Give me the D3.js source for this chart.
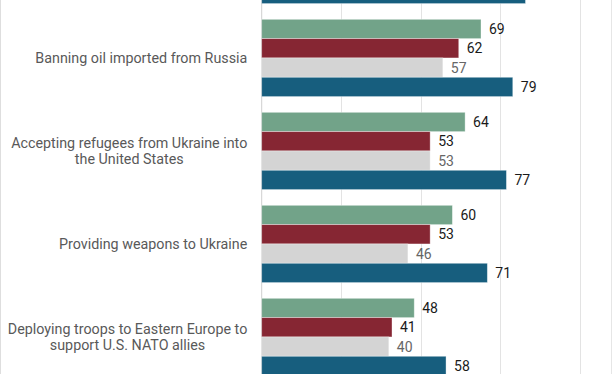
<!DOCTYPE html>
<html>
<head>
<meta charset="utf-8">
<script src="https://cdn.jsdelivr.net/npm/d3@7"></script>
<style>
  html, body { margin: 0; padding: 0; background: #fff; }
  svg { display: block; font-family: Roboto, "Noto Sans", sans-serif; }
</style>
</head>
<body>
<div id="figure"></div>
<script>
// categories (first one is cut off at the top of the picture)
const categories = [
  '',
  'Banning oil imported from Russia',
  'Accepting refugees from Ukraine into\nthe United States',
  'Providing weapons to Ukraine',
  'Deploying troops to Eastern Europe to\nsupport U.S. NATO allies'
]
const seriesNames = ['Total', 'Republicans', 'Independents', 'Democrats']
// values per series, same order as categories (null = not visible)
const total = [null, 69, 64, 60, 48]
const republicans = [null, 62, 53, 53, 41]
const independents = [null, 57, 53, 46, 40]
const democrats = [83, 79, 77, 71, 58]
const xTicks = [25, 50, 75, 100]

const seriesValues = [total, republicans, independents, democrats]
const colors = ['#72a389', '#862633', '#d4d4d4', '#175e7e']
const labelColors = ['#1a1a1a', '#1a1a1a', '#666666', '#1a1a1a']

const width = 612
const height = 374

const svg = d3.select('#figure').append('svg')
  .attr('width', width).attr('height', height)

// scales
const x = d3.scaleLinear().domain([0, 110]).range([261.7, 611.3])
const step = 93
const y0 = -81.55
const y = d3.scaleBand().domain(d3.range(categories.length))
  .range([y0, y0 + step * categories.length])
  .paddingInner(0.169).paddingOuter(0.0845)
const ySub = d3.scaleBand().domain(d3.range(seriesNames.length))
  .range([0, y.bandwidth()])

// frame lines
svg.append('line').attr('x1', 0.5).attr('x2', 0.5).attr('y1', 0).attr('y2', height)
  .attr('stroke', '#dedede')
svg.append('line').attr('x1', width - 0.5).attr('x2', width - 0.5).attr('y1', 0).attr('y2', height)
  .attr('stroke', '#e6e6e6')

// grid
svg.append('g').selectAll('line').data(xTicks).enter().append('line')
  .attr('x1', d => Math.round(x(d)) + 0.5).attr('x2', d => Math.round(x(d)) + 0.5)
  .attr('y1', 0).attr('y2', height)
  .attr('stroke', '#e3e3e3')

// baseline
svg.append('line').attr('x1', x(0)).attr('x2', x(0)).attr('y1', 0).attr('y2', height)
  .attr('stroke', '#cfcfcf')

// bars
const rows = []
categories.forEach((c, i) => {
  seriesValues.forEach((vals, s) => {
    if (vals[i] != null) rows.push({ cat: i, s: s, v: vals[i] })
  })
})

const g = svg.append('g')
g.selectAll('rect').data(rows).enter().append('rect')
  .attr('x', x(0))
  .attr('y', d => y(d.cat) + ySub(d.s))
  .attr('width', d => x(d.v) - x(0))
  .attr('height', ySub.bandwidth())
  .attr('fill', d => colors[d.s])
  .attr('stroke', 'rgba(255,255,255,0.45)')
  .attr('stroke-width', 0.8)

// value labels (the cut-off top group shows none)
g.selectAll('text').data(rows.filter(d => categories[d.cat] !== '')).enter().append('text')
  .attr('x', d => x(d.v) + 8)
  .attr('y', d => y(d.cat) + ySub(d.s) + ySub.bandwidth() / 2)
  .attr('dy', '0.35em')
  .attr('font-size', 14)
  .attr('fill', d => labelColors[d.s])
  .text(d => d.v)

// category labels, centered lines, right edge at 247
const labelRight = 247.3
const lineH = 16
const lab = svg.append('g')
categories.forEach((c, i) => {
  if (!c) return
  const lines = c.split('\n')
  const t = lab.append('text')
    .attr('font-size', 14.3)
    .attr('fill', '#595959')
    .attr('text-anchor', 'middle')
  const cy = y(i) + y.bandwidth() / 2
  lines.forEach((ln, k) => {
    t.append('tspan')
      .attr('y', cy + (k - (lines.length - 1) / 2) * lineH)
      .attr('dy', '0.35em')
      .text(ln)
  })
  let maxW = 0
  t.selectAll('tspan').each(function () {
    maxW = Math.max(maxW, this.getComputedTextLength())
  })
  t.selectAll('tspan').attr('x', labelRight - maxW / 2)
})
</script>
</body>
</html>
